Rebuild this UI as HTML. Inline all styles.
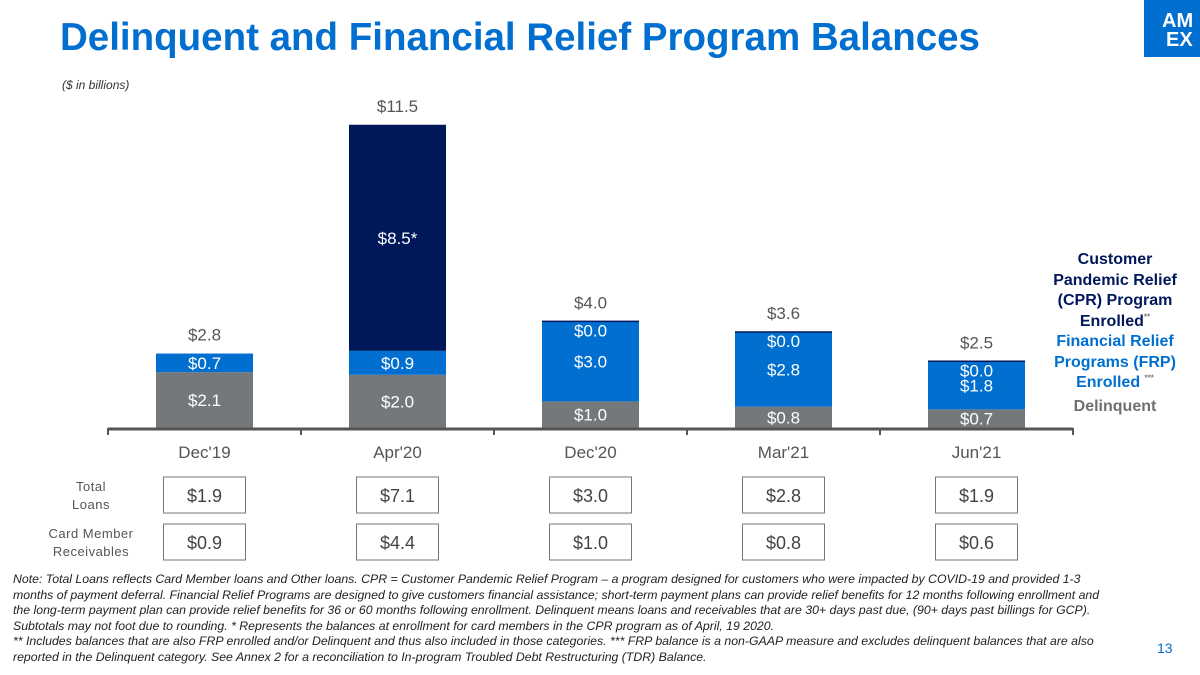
<!DOCTYPE html>
<html><head><meta charset="utf-8">
<style>
body{margin:0;width:1200px;height:675px;background:#fff;font-family:"Liberation Sans",Arial,sans-serif;overflow:hidden;position:relative}
#title{position:absolute;left:60px;top:16px;font-size:38.5px;font-weight:bold;color:#006fcf;margin:0;white-space:nowrap}
#unit{position:absolute;left:62px;top:78px;font-size:12px;font-style:italic;color:#333}
#logo{position:absolute;left:1144px;top:0;width:56px;height:57px;background:#016fd0}
#legend{position:absolute;left:1043px;top:250px;width:144px;text-align:center;font-size:16px;font-weight:bold;line-height:20.5px}
.note{position:absolute;left:13px;top:572px;width:1098px;font-size:12.3px;font-style:italic;line-height:15.6px;color:#222}
#pg{position:absolute;left:1157px;top:640px;font-size:14px;color:#006fcf}
</style></head><body>
<h1 id="title">Delinquent and Financial Relief Program Balances</h1>
<div id="unit">($ in billions)</div>
<svg id="logo" viewBox="0 0 56 57"><text x="18" y="27" font-size="20" font-weight="bold" fill="#fff" font-family="Liberation Sans">AM</text><text x="22" y="46" font-size="20" font-weight="bold" fill="#fff" font-family="Liberation Sans">EX</text></svg>
<svg id="chart" width="1200" height="675" style="position:absolute;left:0;top:0"></svg>
<div id="legend">
<div style="color:#00175a">Customer Pandemic Relief (CPR) Program Enrolled<sup style="font-size:8px;color:#777;line-height:0">**</sup></div>
<div style="color:#006fcf">Financial Relief Programs (FRP) Enrolled <sup style="font-size:8px;color:#777;line-height:0">***</sup></div>
<div style="color:#707070;margin-top:3px">Delinquent</div>
</div>
<div class="note">Note: Total Loans reflects Card Member loans and Other loans. CPR = Customer Pandemic Relief Program – a program designed for customers who were impacted by COVID-19 and provided 1-3 months of payment deferral. Financial Relief Programs are designed to give customers financial assistance; short-term payment plans can provide relief benefits for 12 months following enrollment and the long-term payment plan can provide relief benefits for 36 or 60 months following enrollment. Delinquent means loans and receivables that are 30+ days past due, (90+ days past billings for GCP). Subtotals may not foot due to rounding. * Represents the balances at enrollment for card members in the CPR program as of April, 19 2020.<br>** Includes balances that are also FRP enrolled and/or Delinquent and thus also included in those categories. *** FRP balance is a non-GAAP measure and excludes delinquent balances that are also reported in the Delinquent category. See Annex 2 for a reconciliation to In-program Troubled Debt Restructuring (TDR) Balance.</div>
<div id="pg">13</div>
<script>
const categories=["Dec'19","Apr'20","Dec'20","Mar'21","Jun'21"];
const delinquent=[2.1,2.0,1.0,0.8,0.7];
const frp=[0.7,0.9,3.0,2.8,1.8];
const cpr=[null,8.5,0.0,0.0,0.0];
const cprLabels=["","$8.5*","$0.0","$0.0","$0.0"];
const totals=["$2.8","$11.5","$4.0","$3.6","$2.5"];
const totalLoans=["$1.9","$7.1","$3.0","$2.8","$1.9"];
const cardReceivables=["$0.9","$4.4","$1.0","$0.8","$0.6"];
const NS="http://www.w3.org/2000/svg",svg=document.getElementById('chart');
const x0=108,step=193,base=428,ppu=26.6,bw=97;
const cx=i=>x0+step*(i+0.5);
const y=v=>base-v*ppu;
function el(t,a,txt){const e=document.createElementNS(NS,t);for(const k in a)e.setAttribute(k,a[k]);if(txt!=null)e.textContent=txt;svg.appendChild(e);return e;}
function lbl(x,yy,s,fill,size,w){return el('text',{x:x,y:yy,'text-anchor':'middle','font-size':size||17,fill:fill,'font-weight':w||'normal','font-family':'Liberation Sans'},s);}
categories.forEach((c,i)=>{
 const X=cx(i)-bw/2;
 const d=delinquent[i],f=frp[i],p=cpr[i]||0;
 const r1=el('rect',{x:X,y:y(d),width:bw,height:d*ppu,fill:'#75787b'});
 
 const r2=el('rect',{x:X,y:y(d+f),width:bw,height:f*ppu,fill:'#006fcf'});
 
 let top=y(d+f);
 if(cpr[i]!==null){
  const h=Math.max(p*ppu,1.5);
  const r3=el('rect',{x:X,y:y(d+f)-h+(p===0?0.5:0),width:bw,height:h,fill:'#00175a'});
  
  top=y(d+f+p);
 }
 lbl(cx(i),(y(d)+base)/2+6,'$'+d.toFixed(1),'#fff');
 lbl(cx(i),(y(d)+y(d+f))/2+6,'$'+f.toFixed(1),'#fff');
 if(cpr[i]!==null){
  if(p>0) lbl(cx(i),(y(d+f)+y(d+f+p))/2+6,cprLabels[i],'#fff');
  else lbl(cx(i),y(d+f)+15,cprLabels[i],'#fff');
 }
 lbl(cx(i),top-13,totals[i],'#555');
 const t=lbl(cx(i),458,c,'#555',17);
 
 [[totalLoans,477],[cardReceivables,524]].forEach(([arr,yy])=>{
  el('rect',{x:cx(i)-41,y:yy,width:82,height:36,fill:'#fff',stroke:'#777','stroke-width':1});
  lbl(cx(i),yy+25,arr[i],'#444',18);
 });
});
const ax=el('line',{x1:x0,y1:base+1,x2:x0+step*5,y2:base+1,stroke:'#555','stroke-width':3});

for(let i=0;i<=5;i++)el('line',{x1:x0+step*i,y1:base,x2:x0+step*i,y2:base+7,stroke:'#555','stroke-width':2});
[["Total",491],["Loans",509],["Card Member",538],["Receivables",556]].forEach(([s,yy])=>{const t=el('text',{x:91,y:yy,'text-anchor':'middle','font-size':13,fill:'#555','letter-spacing':'0.5','font-family':'Liberation Sans'},s);});
</script>
</body></html>
